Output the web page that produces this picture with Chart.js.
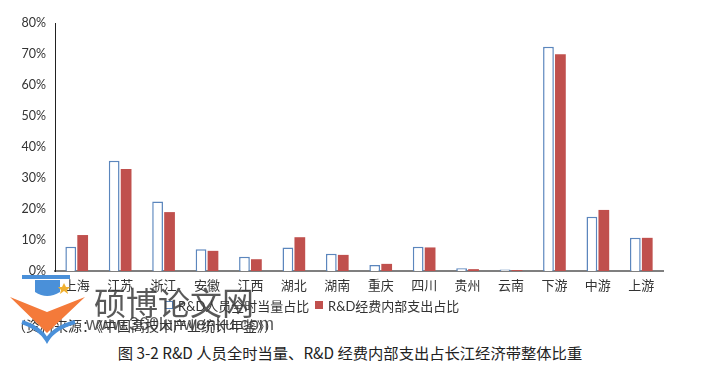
<!DOCTYPE html>
<html><head><meta charset="utf-8">
<script src="https://cdn.jsdelivr.net/npm/chart.js@4"></script>
<style>
html,body{margin:0;padding:0;background:#fff;}
#wrap{position:relative;width:709px;height:366px;overflow:hidden;font-family:"Noto Sans CJK SC",sans-serif;}
#cw{position:absolute;left:0;top:0;width:709px;height:297px;}
.abs{position:absolute;white-space:nowrap;}
.leg{font-family:Lato,"Noto Sans CJK SC",sans-serif;font-size:13px;color:#333;top:296px;}
.box{position:absolute;width:8px;height:8px;top:301px;}
</style></head><body>
<div id="wrap">
<div id="cw"><canvas id="c"></canvas></div>
<div class="box" style="left:165px;border:1.5px solid #5b86bd;width:6px;height:6px;background:#fff"></div>
<div class="abs leg" style="left:178px">R&amp;D人员全时当量占比</div>
<div class="box" style="left:315px;background:#c0504d"></div>
<div class="abs leg" style="left:328px">R&amp;D经费内部支出占比</div>
<div class="abs" style="left:12px;top:315px;font-size:14px;color:#333">（资料来源：《中国高技术产业统计年鉴》）</div>
<div class="abs" style="left:0;width:700px;text-align:center;top:341px;font-size:15.3px;color:#222">图 3-2 R&amp;D 人员全时当量、R&amp;D 经费内部支出占长江经济带整体比重</div>
<svg class="abs" style="left:0;top:270px" width="100" height="80">
<rect x="22" y="5" width="48" height="4" fill="#4a90d9"/>
<path d="M35 10 H60 V22 Q47 30 35 22 Z" fill="#4a90d9"/>
<polygon points="64,13 66,17 70,17 67,20 68,24 64,21 60,24 61,20 58,17 62,17" fill="#f0b030"/>
<polygon points="10,27 47,42 85,27 47,63" fill="#f47a3a"/>
<path d="M22 52 Q40 58 47 70 Q54 58 75 52" stroke="#4a90d9" stroke-width="4" fill="none"/>
</svg>
<div class="abs" style="left:94px;top:278px;font-size:32px;color:rgba(60,60,60,0.85)">硕博论文网</div>
<div class="abs" style="left:86px;top:314px;font-size:18px;color:rgba(60,60,60,0.85);font-family:'Liberation Sans',sans-serif">www.360lunwenku.com</div>
</div>
<script>
const categories = ["上海","江苏","浙江","安徽","江西","湖北","湖南","重庆","四川","贵州","云南","下游","中游","上游"];
const staffShare = [7.8,35.6,22.4,7.0,4.6,7.6,5.6,1.9,7.8,0.9,0.5,72.3,17.5,10.7];
const spendShare = [11.6,32.9,19.0,6.5,3.8,10.9,5.2,2.3,7.6,0.6,0.3,69.9,19.7,10.7];
const yTicks = [0,10,20,30,40,50,60,70,80];

new Chart(document.getElementById('c'), {
  type: 'bar',
  data: {
    labels: categories,
    datasets: [
      {label:'R&D人员全时当量占比', data: staffShare, backgroundColor:'#ffffff', borderColor:'#5b86bd', borderWidth:1.5, categoryPercentage:0.55, barPercentage:0.9},
      {label:'R&D经费内部支出占比', data: spendShare, backgroundColor:'#c0504d', borderWidth:0, categoryPercentage:0.55, barPercentage:0.9}
    ]
  },
  options: {
    responsive:true, maintainAspectRatio:false, animation:false,
    layout:{padding:{left:0,right:46,top:23,bottom:0}},
    plugins:{legend:{display:false}, tooltip:{enabled:false}},
    scales:{
      x:{
        grid:{display:false, drawTicks:false},
        border:{display:true, color:'#7f7f7f', width:2},
        ticks:{color:'#333', font:{family:'"Noto Sans CJK SC"', size:13}, padding:6, maxRotation:0, autoSkip:false},
        afterFit(s){ s.height = 26; }
      },
      y:{
        min:0, max:80,
        afterBuildTicks(s){ s.ticks = yTicks.map(v=>({value:v})); },
        grid:{display:false, drawTicks:false},
        border:{display:true, color:'#222', width:1},
        ticks:{color:'#333', font:{family:'Lato', size:12.5}, padding:9, callback:v=>v+'%'},
        afterFit(s){ s.width = 55; }
      }
    }
  }
});
</script>
</body></html>
